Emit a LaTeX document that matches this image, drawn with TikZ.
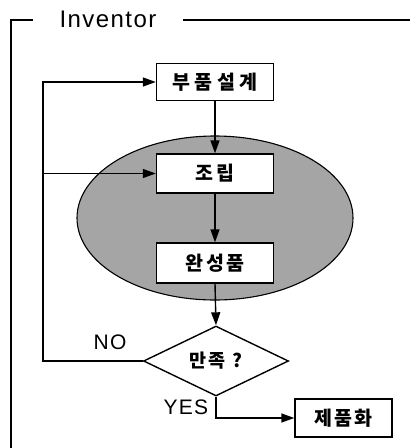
\documentclass[tikz,border=0pt]{standalone}
\usepackage{fontspec}
\setmainfont{Liberation Sans}
\newfontfamily\lat{Liberation Sans}[LetterSpace=6]
\newfontfamily\kor{Noto Sans CJK KR}[LetterSpace=12]
\newfontfamily\korw{Noto Sans CJK KR}[LetterSpace=22]
\usetikzlibrary{shapes.geometric,arrows.meta}
\definecolor{stipple}{RGB}{165,165,165}
\begin{document}
\begin{tikzpicture}[x=1pt,y=-1pt,
  line width=1.3pt,
  box/.style={draw, fill=white, line width=1.4pt, minimum width=117pt, minimum height=37pt, inner sep=0pt, font=\kor\bfseries\fontsize{19.5}{19.5}\selectfont},
  arr/.style={-{Triangle[length=13pt,width=9pt]}, line width=1.4pt},
  lbl/.style={font=\lat\fontsize{21}{21}\selectfont, inner sep=0pt},
  framel/.style={line width=1.2pt}]
\useasboundingbox (0,0) rectangle (410,448);
% frame
\node[lbl, font=\lat\fontsize{24}{24}\selectfont] (inv) at (108,19) {Inventor};
\coordinate (f1) at (11,448);
\coordinate (f2) at (11,20);
\coordinate (f3) at (33,20);
\coordinate (f4) at (183,20);
\coordinate (f5) at (410,20);
\draw[framel] (f1) -- (f2) -- (f3);
\draw[framel] (f4) -- (f5);
% ellipse
\node[ellipse, draw, line width=1.1pt, fill=stipple, minimum width=276pt, minimum height=164pt, inner sep=0pt] (ell) at (215,218) {};
% nodes
\node[box, font=\korw\bfseries\fontsize{19.5}{19.5}\selectfont] (b1) at (215,82) {부품설계};
\node[box, minimum height=39pt] (b2) at (215,173.5) {조립};
\node[box, minimum height=40pt] (b3) at (215,263) {완성품};
\node[diamond, draw, line width=1.4pt, fill=white, minimum width=145pt, minimum height=60pt, inner sep=0pt, font=\kor\bfseries\fontsize{18.5}{18.5}\selectfont] (d) at (216,361) {만족 ?};
\node[box, minimum width=97pt, minimum height=38pt] (b4) at (343.5,418) {제품화};
\node[lbl] (no) at (110,342) {NO};
\node[lbl] (yes) at (186,407) {YES};
% connectors
\coordinate (c1) at (43,361);
\coordinate (c2) at (43,173.5);
\coordinate (c3) at (216,418);
\draw[arr] (b1.south) -- (b2.north);
\draw[arr] (b2.south) -- (b3.north);
\draw[arr] (b3.south) -- (d.north);
\draw[arr] (d.west) -- (c1) |- (b1.west);
\draw[arr] (c2) -- (b2.west);
\draw[arr] (d.south) -- (c3) -- (b4.west);
\end{tikzpicture}
\end{document}
